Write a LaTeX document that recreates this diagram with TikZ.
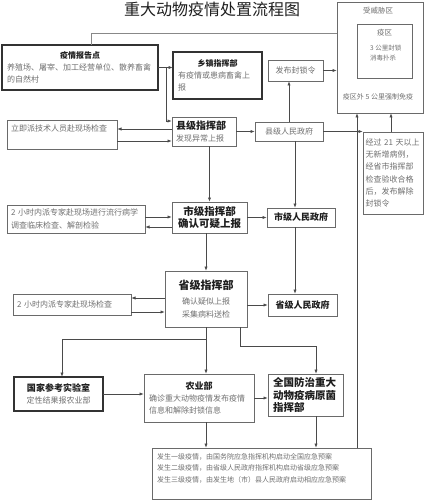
\documentclass[tikz,border=0pt]{standalone}
\usepackage{fontspec}
\setmainfont{Noto Sans CJK SC}
\usetikzlibrary{arrows.meta}
\definecolor{boxc}{HTML}{6A6A6A}
\definecolor{linec}{HTML}{4A4A4A}
\definecolor{txtc}{HTML}{707070}
\definecolor{headc}{HTML}{1E1E1E}
\tikzset{
  box/.style={draw=boxc, line width=0.7pt, fill=white, inner sep=0pt, outer sep=0pt, anchor=north west},
  tbox/.style={box, draw=black!80, line width=1.1pt},
  body/.style={text=txtc, font=\fontsize{8}{12.2}\selectfont, align=left},
  bodyc/.style={text=txtc, font=\fontsize{8}{12.2}\selectfont, align=center},
  head/.style={text=headc, font=\fontsize{9}{12.5}\bfseries, align=center},
  tiny/.style={text=txtc, font=\fontsize{7}{10}\selectfont, inner sep=0pt},
  arr/.style={draw=linec, line width=0.8pt, -{Latex[length=4.5pt,width=3.2pt]}},
  ln/.style={draw=linec, line width=0.8pt},
  thinln/.style={draw=boxc!80, line width=0.5pt},
  titlestyle/.style={text=headc, font=\fontsize{16}{18}\selectfont, inner sep=0pt}
}
\begin{document}
\begin{tikzpicture}[x=1pt,y=-1pt]
\useasboundingbox (0,0) rectangle (426,500);
\node[titlestyle] (title) at (212,9) {重大动物疫情处置流程图};

% threatened zone
\node[box, minimum width=86, minimum height=111] (threat) at (337,2) {};
\node[tiny, font=\fontsize{7.5}{10}\selectfont] (threatlbl) at (378,11) {受威胁区};
\node[box, minimum width=55, minimum height=54] (yiqu) at (357,24) {};
\node[tiny, font=\fontsize{7.5}{10}\selectfont] (yiqulbl) at (384.5,33) {疫区};
\node[tiny, align=left, anchor=west, font=\fontsize{6.5}{10}\selectfont] (yiqutxt) at (370,53) {3 公里封锁\\消毒扑杀};
\node[tiny] (outer) at (378,97) {疫区外 5 公里强制免疫};

% left / top boxes
\node[tbox, minimum width=156, minimum height=45, text width=146, body] (report) at (2,45)
  {{\centering\color{headc}\bfseries 疫情报告点\par}养殖场、屠宰、加工经营单位、散养畜禽\\的自然村};
\node[tbox, minimum width=89, minimum height=47, text width=79, body] (xiang) at (173,52)
  {{\centering\color{headc}\bfseries 乡镇指挥部\par}有疫情或患病畜禽上\\报};
\node[box, minimum width=55, minimum height=21, bodyc] (fengsuo) at (268,60) {发布封锁令};
\node[box, minimum width=60, minimum height=82, text width=55, body] (jiechu) at (363,132)
  {经过 21 天以上\\无新增病例，\\经省市指挥部\\检查验收合格\\后，发布解除\\封锁令};

\node[box, minimum width=110, minimum height=29, text width=102, body] (tech) at (7,120)
  {立即派技术人员赴现场检查\\\mbox{}};
\node[box, minimum width=64, minimum height=29, text width=56, body] (county) at (172,117)
  {{\color{headc}\bfseries\fontsize{10}{13}\selectfont 县级指挥部}\\发现异常上报};
\node[box, minimum width=68, minimum height=19, bodyc] (countygov) at (255,122) {县级人民政府};

\node[box, minimum width=138, minimum height=28, text width=130, body] (expert2) at (7,205)
  {2 小时内派专家赴现场进行流行病学\\调查临床检查、解剖检验};
\node[box, minimum width=75, minimum height=31, head, font=\fontsize{10.5}{12.5}\bfseries] (city) at (172,202)
  {市级指挥部\\确认可疑上报};
\node[box, minimum width=68, minimum height=19, head] (citygov) at (267,208) {市级人民政府};

\node[box, minimum width=82, minimum height=56, bodyc] (prov) at (165,271)
  {{\color{headc}\bfseries\fontsize{11}{15}\selectfont 省级指挥部}\\[3pt]确认疑似上报\\采集病料送检};
\node[box, minimum width=118, minimum height=21, text width=110, body] (expert3) at (13,294)
  {2 小时内派专家赴现场检查};
\node[box, minimum width=69, minimum height=22, head] (provgov) at (268,294) {省级人民政府};

\node[tbox, minimum width=89, minimum height=34, bodyc] (lab) at (14,377)
  {{\color{headc}\bfseries\fontsize{9}{12}\selectfont 国家参考实验室}\\定性结果报农业部};
\node[box, minimum width=110, minimum height=48, text width=100, body] (agri) at (144,374)
  {{\centering\color{headc}\bfseries\fontsize{9}{12}\selectfont 农业部\par}确诊重大动物疫情发布疫情\\信息和解除封锁信息};
\node[box, minimum width=75, minimum height=42, text width=65, head, align=left, font=\fontsize{10.5}{12.5}\bfseries] (natl) at (268,374)
  {全国防治重大\\动物疫病原菌\\指挥部};
\node[box, minimum width=219, minimum height=51] (plan) at (152,448) {};
\node[tiny, align=left, anchor=north west, font=\fontsize{7}{11.5}\selectfont] (plantxt) at (157,453)
  {发生一级疫情，由国务院应急指挥机构启动全国应急预案\\发生二级疫情，由省级人民政府指挥机构启动省级应急预案\\发生三级疫情，由发生地（市）县人民政府启动相应应急预案};

% connectors
\coordinate (r1) at ([xshift=11pt]report.north);
\coordinate (r2) at ([yshift=12pt]r1);
\draw[thinln] (r1) -- (r2) -- (r2 -| threat.west);

\draw[arr] (report.east) -- (report.east -| xiang.west);
\coordinate (b1) at ([xshift=8pt]report.east);
\coordinate (b2) at ([yshift=10.5pt]county.west);
\draw[arr] (b1) |- (b2);

\coordinate (t1) at ([yshift=5.5pt]tech.east);
\coordinate (t2) at ([yshift=-6.5pt]tech.east);
\draw[arr] (t1 -| county.west) -- (t1);
\draw[arr] (t2) -- (t2 -| county.west);

\draw[arr] (county.east) -- (county.east -| countygov.west);
\draw[arr] (countygov.north) -- (countygov.north |- fengsuo.south);
\draw[arr] (fengsuo.east) -- (fengsuo.east -| threat.west);
\draw[arr] (countygov.east) -- (countygov.east -| jiechu.west);

\coordinate (g1) at ([xshift=6pt]countygov.south);
\draw[arr] (g1) -- (g1 |- citygov.north);
\draw[arr] (g1 |- citygov.south) -- (g1 |- provgov.north);

\draw[arr] (city.north |- county.south) -- (city.north);
\coordinate (e1) at ([yshift=2pt]expert2.east);
\coordinate (e2) at ([yshift=-8pt]expert2.east);
\draw[arr] (e1) -- (e1 -| city.west);
\draw[arr] (e2 -| city.west) -- (e2);
\draw[arr] (city.east) -- (city.east -| citygov.west);

\draw[arr] (prov.north |- city.south) -- (prov.north);
\coordinate (s1) at ([yshift=6.5pt]expert3.east);
\coordinate (s2) at ([yshift=-7.5pt]expert3.east);
\draw[arr] (s1 -| prov.west) -- (s1);
\draw[arr] (s2) -- (s2 -| prov.west);
\draw[arr] (provgov.west -| prov.east) -- (provgov.west);

\draw[arr] (prov.south) -- (prov.south |- agri.north);
\coordinate (pb) at ([yshift=-12pt]prov.south);
\coordinate (l1) at ([xshift=3.5pt]lab.north);
\draw[arr] (pb) -| (l1);
\coordinate (p1) at ([xshift=34pt]prov.south);
\coordinate (n2) at ([xshift=10.5pt]natl.north);
\draw[arr] (p1) -- ++(0,19) -| (n2);

\draw[arr] (lab.east) -- (lab.east -| agri.west);
\draw[arr] (agri.east) -- (agri.east -| natl.west);
\draw[arr] (prov.south |- agri.south) -- (prov.south |- plan.north);
\coordinate (n1) at ([xshift=10.5pt]natl.south);
\draw[arr] (n1) -- (n1 |- plan.north);

\coordinate (v1) at ([xshift=20pt]threat.south west);
\draw[arr] (v1 |- plan.north) -- (v1);
\coordinate (v2) at ([xshift=-2pt]jiechu.north);
\draw[arr] (v2) -- (v2 |- threat.south);
\end{tikzpicture}
\end{document}
